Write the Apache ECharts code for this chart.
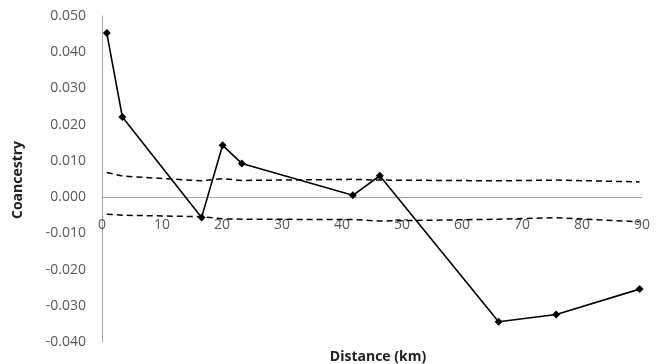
<!DOCTYPE html>
<html><head><meta charset="utf-8">
<script src="https://cdn.jsdelivr.net/npm/echarts@6/dist/echarts.min.js"></script>
<style>html,body{margin:0;padding:0;background:#fff}#c{width:657px;height:364px}</style>
</head><body><div id="c"></div>
<script>
const distances = [0.8, 3.4, 16.6, 20.1, 23.3, 41.8, 46.3, 66.1, 75.7, 89.6];
const coancestry = [0.0453, 0.0221, -0.0056, 0.0143, 0.0093, 0.0005, 0.0059, -0.0344, -0.0324, -0.0254];
const upperCI = [0.0068, 0.0058, 0.0045, 0.0051, 0.0046, 0.0049, 0.0047, 0.0045, 0.0047, 0.0042];
const lowerCI = [-0.0047, -0.0050, -0.0054, -0.0060, -0.0061, -0.0062, -0.0066, -0.0061, -0.0057, -0.0068];
const xTicks = [0, 10, 20, 30, 40, 50, 60, 70, 80, 90];
const yTicks = [-0.04, -0.03, -0.02, -0.01, 0, 0.01, 0.02, 0.03, 0.04, 0.05];

const pair = arr => distances.map((d, i) => [d, arr[i]]);
const font = "'Open Sans', 'DejaVu Sans', sans-serif";
const gridTop = 16, gridBottom = 22, H = 364;
const plotH = H - gridTop - gridBottom;
const yMin = yTicks[0], yMax = yTicks[yTicks.length - 1];
const zeroOffset = -plotH * (0 - yMin) / (yMax - yMin);
const chart = echarts.init(document.getElementById('c'));
chart.setOption({
  animation: false,
  grid: { left: 102, right: 15, top: gridTop, bottom: gridBottom, containLabel: false },
  title: {
    text: 'Distance (km)', left: 373, top: 345, textAlign: 'center',
    textStyle: { fontFamily: font, fontSize: 14, fontWeight: 'bold', color: '#222' }
  },
  graphic: [{
    type: 'text', x: 18, y: 180, rotation: Math.PI / 2,
    style: { text: 'Coancestry', font: "bold 14px 'Open Sans', 'DejaVu Sans', sans-serif", fill: '#222', textAlign: 'center', textVerticalAlign: 'middle' }
  }],
  xAxis: {
    type: 'value', min: xTicks[0], max: xTicks[xTicks.length - 1], interval: 10,
    position: 'bottom', offset: zeroOffset,
    axisLine: { onZero: false, lineStyle: { color: '#a6a6a6', width: 1 } },
    axisTick: { show: false },
    splitLine: { show: false },
    axisLabel: { margin: 21, fontFamily: font, fontSize: 14, color: '#595959' }
  },
  yAxis: {
    type: 'value', min: yMin, max: yMax, interval: 0.01,
    axisLine: { show: true, lineStyle: { color: '#a6a6a6', width: 1 } },
    axisTick: { show: false },
    splitLine: { show: false },
    axisLabel: { margin: 16, fontFamily: font, fontSize: 14, color: '#595959', formatter: v => v.toFixed(3) }
  },
  series: [
    { type: 'line', data: pair(upperCI), symbol: 'none', lineStyle: { color: '#000', width: 1.5, type: [6, 4] }, z: 2 },
    { type: 'line', data: pair(lowerCI), symbol: 'none', lineStyle: { color: '#000', width: 1.5, type: [6, 4] }, z: 2 },
    { type: 'line', data: pair(coancestry), symbol: 'diamond', symbolSize: 8, showAllSymbol: true,
      itemStyle: { color: '#000' }, lineStyle: { color: '#000', width: 1.6 }, z: 3 }
  ]
});
</script></body></html>
